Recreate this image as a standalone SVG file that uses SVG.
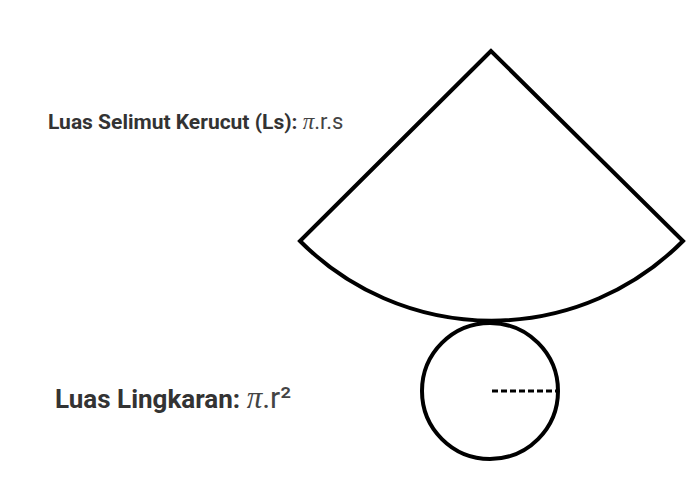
<svg xmlns="http://www.w3.org/2000/svg" width="700" height="500" viewBox="0 0 700 500">
<style>
.shape{fill:none;stroke:#000;stroke-width:4;stroke-linejoin:miter}
.lbl{font-family:Roboto,"Liberation Sans",sans-serif;font-weight:bold;fill:#333}
.math{font-family:Roboto,"Liberation Sans",sans-serif;font-weight:normal;fill:#444}
.pi{font-family:"Liberation Serif","DejaVu Serif",serif;font-style:italic;font-weight:normal;fill:#444}
</style>
<rect width="700" height="500" fill="#fff"/>
<g id="selimut">
<path class="shape" d="M491 51 L300 241 A270 270 0 0 0 683 241 Z"/>
</g>
<g id="lingkaran">
<circle class="shape" cx="490" cy="391" r="68"/>
<line x1="492" y1="391" x2="557" y2="391" stroke="#000" stroke-width="3" stroke-dasharray="6,3"/>
</g>
<g id="label-selimut">
<text x="48" y="129" font-size="21"><tspan class="lbl">Luas Selimut Kerucut (Ls): </tspan><tspan class="pi" font-size="23">π</tspan><tspan class="math" font-size="22">.r.s</tspan></text>
</g>
<g id="label-lingkaran">
<text x="55" y="408" font-size="26"><tspan class="lbl">Luas Lingkaran: </tspan><tspan class="pi" font-size="31">π</tspan><tspan class="math" font-size="30">.r²</tspan></text>
</g>
</svg>
